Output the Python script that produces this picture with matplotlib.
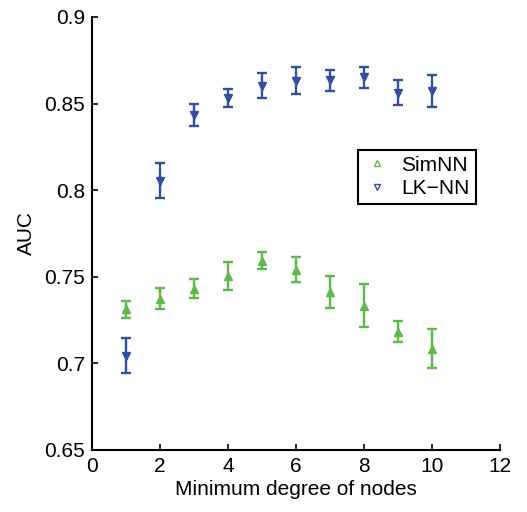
import matplotlib
matplotlib.use("Agg")
import matplotlib.pyplot as plt
from matplotlib.lines import Line2D

plt.rcParams['font.family'] = ['Liberation Sans', 'DejaVu Sans']

degree = [1, 2, 3, 4, 5, 6, 7, 8, 9, 10]
simnn_auc = [0.7313, 0.7374, 0.7432, 0.7503, 0.7593, 0.7542, 0.7412, 0.7334, 0.7182, 0.7086]
simnn_err = [0.0049, 0.0060, 0.0053, 0.0080, 0.0050, 0.0072, 0.0090, 0.0122, 0.0060, 0.0110]
lknn_auc = [0.7043, 0.8054, 0.8434, 0.8532, 0.8603, 0.8633, 0.8634, 0.8652, 0.8564, 0.8574]
lknn_err = [0.0101, 0.0101, 0.0062, 0.0052, 0.0071, 0.0080, 0.0060, 0.0062, 0.0072, 0.0092]

green = '#5cbb45'
blue = '#2f4ea6'

fig = plt.figure(figsize=(5.27, 5.12), dpi=100)
ax = fig.add_axes([0.1746, 0.1211, 0.7742, 0.8457])

ax.errorbar(degree, simnn_auc, yerr=simnn_err, fmt='^', color=green, ecolor=green,
            markersize=5.5, elinewidth=1.7, capsize=3.8, capthick=1.7, linestyle='none')
ax.errorbar(degree, lknn_auc, yerr=lknn_err, fmt='v', color=blue, ecolor=blue,
            markersize=5.5, elinewidth=1.7, capsize=3.8, capthick=1.7, linestyle='none')

ax.set_xlim(0, 12)
ax.set_ylim(0.65, 0.9)
ax.set_xticks([0, 2, 4, 6, 8, 10, 12])
ax.set_yticks([0.65, 0.7, 0.75, 0.8, 0.85, 0.9])
ax.set_yticklabels(['0.65', '0.7', '0.75', '0.8', '0.85', '0.9'])
ax.spines['top'].set_visible(False)
ax.spines['right'].set_visible(False)
for s in ['left', 'bottom']:
    ax.spines[s].set_linewidth(1.5)
ax.tick_params(direction='in', length=4, width=1.2, labelsize=15, pad=5)
ax.set_xlabel('Minimum degree of nodes', fontsize=15, labelpad=3)
ax.set_ylabel('AUC', fontsize=15, labelpad=6)

handles = [Line2D([], [], marker='^', color=green, markerfacecolor='none', markersize=4,
                  linestyle='none', markeredgewidth=1),
           Line2D([], [], marker='v', color=blue, markerfacecolor='none', markersize=4,
                  linestyle='none', markeredgewidth=1)]
leg = ax.legend(handles, ['SimNN', 'LK\u2212NN'], loc='upper left',
                bbox_to_anchor=(0.652, 0.693), fontsize=15, fancybox=False,
                edgecolor='black', framealpha=1, borderpad=0.28, handletextpad=0.5,
                labelspacing=0.22, handlelength=1.3, borderaxespad=0)
leg.get_frame().set_linewidth(1.5)

fig.savefig('out.png', dpi=100)
